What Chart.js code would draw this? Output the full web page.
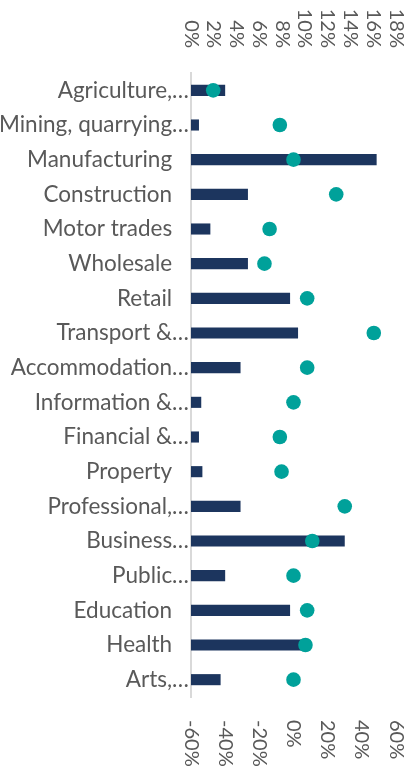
<!DOCTYPE html>
<html>
<head>
<meta charset="utf-8">
<script src="https://cdn.jsdelivr.net/npm/chart.js@4.4.0/dist/chart.umd.min.js"></script>
<style>
  html, body { margin: 0; padding: 0; background: #ffffff; }
  #wrap { width: 415px; height: 781px; }
</style>
</head>
<body>
<div id="wrap"><canvas id="c" width="415" height="781"></canvas></div>
<script>
const categories = [
  'Agriculture,…', 'Mining, quarrying…', 'Manufacturing', 'Construction',
  'Motor trades', 'Wholesale', 'Retail', 'Transport &…', 'Accommodation…',
  'Information &…', 'Financial &…', 'Property', 'Professional,…',
  'Business…', 'Public…', 'Education', 'Health', 'Arts,…'
];
// share (top axis, %)
const barValues = [3.0, 0.7, 16.3, 5.0, 1.7, 5.0, 8.7, 9.4, 4.35, 0.9, 0.7, 1.0, 4.35, 13.5, 3.0, 8.7, 9.8, 2.6];
// change (bottom axis, %)
const dotValues = [-47, -8, 0, 25, -14, -17, 8, 47, 8, 0, -8, -7, 30, 11, 0, 8, 7, 0];
const topTicks = [0, 2, 4, 6, 8, 10, 12, 14, 16, 18];
const bottomTicks = [-60, -40, -20, 0, 20, 40, 60];

const labelColor = '#595959';
const fontFamily = 'Lato, "Open Sans", sans-serif';

const rotatedTicks = {
  id: 'rotatedTicks',
  afterDraw(chart) {
    const ctx = chart.ctx;
    ctx.save();
    ctx.fillStyle = labelColor;
    ctx.font = '20px ' + fontFamily;
    ctx.textBaseline = 'middle';
    const top = chart.scales.xTop;
    topTicks.forEach(v => {
      const px = top.getPixelForValue(v);
      ctx.save();
      ctx.translate(px, 48);
      ctx.rotate(Math.PI / 2);
      ctx.textAlign = 'right';
      ctx.fillText(v + '%', 0, 0);
      ctx.restore();
    });
    const bot = chart.scales.xBottom;
    bottomTicks.forEach(v => {
      const px = bot.getPixelForValue(v);
      ctx.save();
      ctx.translate(px, 720);
      ctx.rotate(Math.PI / 2);
      ctx.textAlign = 'left';
      ctx.fillText(v + '%', 0, 0);
      ctx.restore();
    });
    ctx.restore();
  }
};

new Chart(document.getElementById('c'), {
  type: 'bar',
  data: {
    labels: categories,
    datasets: [
      {
        type: 'line',
        label: 'Change',
        data: dotValues,
        indexAxis: 'y',
        xAxisID: 'xBottom',
        yAxisID: 'y',
        showLine: false,
        pointRadius: 7.3,
        pointHoverRadius: 7.3,
        pointBackgroundColor: '#00A19A',
        pointBorderWidth: 0,
        borderColor: '#00A19A',
        backgroundColor: '#00A19A',
        order: 1
      },
      {
        type: 'bar',
        label: 'Share',
        data: barValues,
        indexAxis: 'y',
        xAxisID: 'xTop',
        yAxisID: 'y',
        backgroundColor: '#1C355E',
        borderWidth: 0,
        barPercentage: 0.32,
        categoryPercentage: 1.0,
        order: 2
      }
    ]
  },
  options: {
    indexAxis: 'y',
    responsive: false,
    animation: false,
    devicePixelRatio: 1,
    layout: { padding: { top: 0, right: 19, bottom: 0, left: 0 } },
    plugins: { legend: { display: false }, tooltip: { enabled: false } },
    scales: {
      xTop: {
        type: 'linear', position: 'top', min: 0, max: 18,
        ticks: { stepSize: 2, display: false },
        grid: { display: false, drawTicks: false },
        border: { display: false },
        afterFit(s) { s.height = 73; }
      },
      xBottom: {
        type: 'linear', position: 'bottom', min: -60, max: 60,
        ticks: { stepSize: 20, display: false },
        grid: { display: false, drawTicks: false },
        border: { display: false },
        afterFit(s) { s.height = 84; }
      },
      y: {
        type: 'category', position: 'left',
        grid: { display: false, drawTicks: false },
        border: { display: true, color: '#d9d9d9', width: 2 },
        ticks: {
          color: labelColor,
          padding: 2,
          autoSkip: false,
          font: { family: fontFamily, size: 22.5 },
          callback(value) {
            const l = this.getLabelForValue(value);
            return l.endsWith('…') ? l : l + '\u2003';
          }
        },
        afterFit(s) { s.width = 191; }
      }
    }
  },
  plugins: [rotatedTicks]
});
</script>
</body>
</html>
